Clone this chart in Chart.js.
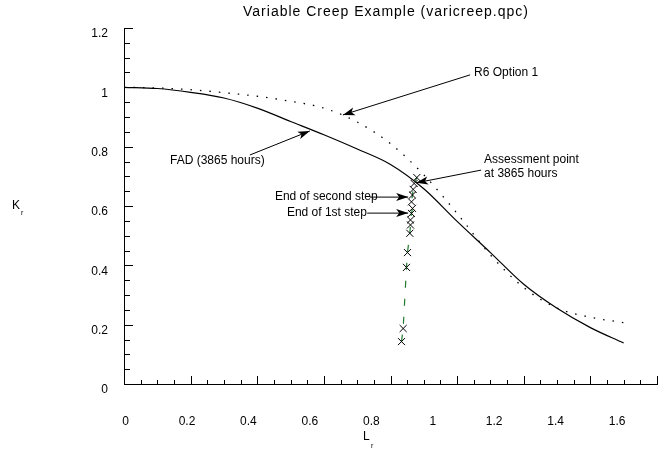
<!DOCTYPE html>
<html>
<head>
<meta charset="utf-8">
<script src="https://cdn.jsdelivr.net/npm/chart.js@4.4.1/dist/chart.umd.min.js"></script>
<style>
  body { margin: 0; background: #fff; }
</style>
</head>
<body>
<canvas id="creepChart" width="665" height="451"></canvas>
<script>
// Values
const lrValues = [0, 0.1, 0.2, 0.3, 0.4, 0.5, 0.6, 0.7, 0.8, 0.9, 1.0, 1.1, 1.2, 1.3, 1.4, 1.5];
const fadValues = [1.000, 0.996, 0.983, 0.964, 0.930, 0.885, 0.840, 0.792, 0.740, 0.658, 0.548, 0.443, 0.336, 0.255, 0.190, 0.138];
const r6Values = [1.000, 0.998, 0.992, 0.982, 0.970, 0.953, 0.930, 0.883, 0.810, 0.705, 0.575, 0.435, 0.325, 0.256, 0.225, 0.207];

// creep steps (bottom to top)
const stepLr = [0.833, 0.838, 0.848, 0.851, 0.858, 0.860, 0.860, 0.863, 0.866, 0.863, 0.866, 0.868, 0.871, 0.879];
const stepKr = [0.143, 0.187, 0.393, 0.443, 0.508, 0.536, 0.553, 0.575, 0.592, 0.614, 0.637, 0.656, 0.676, 0.696];

const xTickLabels = [0, 0.2, 0.4, 0.6, 0.8, 1, 1.2, 1.4, 1.6];
const yTickLabels = [0, 0.2, 0.4, 0.6, 0.8, 1, 1.2];
const minorStep = 0.05;

const chartTitle = 'Variable Creep Example (varicreep.qpc)';
const FONT = "'Liberation Sans', Arial, sans-serif";

// text notes with arrows, given in chart units
const notes = [
  { lines: ["R6 Option 1"], at: [1.051, 1.048], from: [1.039, 1.042], to: [0.657, 0.907] },
  { lines: ["FAD (3865 hours)"], at: [0.138, 0.752], from: [0.378, 0.772], to: [0.558, 0.853] },
  { lines: ["Assessment point", "at 3865 hours"], at: [1.081, 0.755], from: [1.072, 0.721], to: [0.877, 0.678] },
  { lines: ["End of second step"], at: [0.453, 0.630], from: [0.738, 0.630], to: [0.853, 0.630] },
  { lines: ["End of 1st step"], at: [0.489, 0.576], from: [0.73, 0.576], to: [0.853, 0.576] }
];

function toPoints(xs, ys) {
  return xs.map((v, i) => ({ x: v, y: ys[i] }));
}

function tickText(v) {
  return String(Math.round(v * 100) / 100);
}

function drawArrow(ctx, x1, y1, x2, y2) {
  ctx.beginPath();
  ctx.moveTo(x1, y1);
  ctx.lineTo(x2, y2);
  ctx.stroke();
  const ang = Math.atan2(y2 - y1, x2 - x1);
  ctx.save();
  ctx.translate(x2, y2);
  ctx.rotate(ang);
  ctx.beginPath();
  ctx.moveTo(0, 0);
  ctx.lineTo(-12, -4);
  ctx.lineTo(-9, 0);
  ctx.lineTo(-12, 4);
  ctx.closePath();
  ctx.fill();
  ctx.restore();
}

// title, inward tick marks, axis titles and the arrow notes
const decorPlugin = {
  id: 'decor',
  afterDraw(chart) {
    const ctx = chart.ctx;
    const xs = chart.scales.x;
    const ys = chart.scales.y;
    const area = chart.chartArea;
    ctx.save();
    ctx.strokeStyle = '#000';
    ctx.fillStyle = '#000';
    ctx.lineWidth = 1;

    // title (the original is letter-spaced)
    ctx.font = '14px ' + FONT;
    ctx.textAlign = 'center';
    ctx.textBaseline = 'middle';
    ctx.letterSpacing = '1px';
    ctx.fillText(chartTitle, 386, 12);
    ctx.letterSpacing = '0px';

    // x ticks
    const nx = Math.round((xs.max - xs.min) / minorStep);
    for (let i = 0; i <= nx; i++) {
      const px = Math.round(xs.getPixelForValue(xs.min + i * minorStep)) + 0.5;
      const len = i % 4 === 0 ? 8 : 4;
      ctx.beginPath();
      ctx.moveTo(px, area.bottom);
      ctx.lineTo(px, area.bottom - len);
      ctx.stroke();
    }
    // y ticks
    const ny = Math.round((ys.max - ys.min) / minorStep);
    for (let i = 0; i <= ny; i++) {
      const py = Math.round(ys.getPixelForValue(ys.min + i * minorStep)) + 0.5;
      const len = i % 4 === 0 ? 9 : 6;
      ctx.beginPath();
      ctx.moveTo(area.left, py);
      ctx.lineTo(area.left + len, py);
      ctx.stroke();
    }

    // axis titles with subscripts
    ctx.textAlign = 'left';
    ctx.font = '12px ' + FONT;
    ctx.fillText('K', 12, 206);
    ctx.fillText('L', 363, 437);
    ctx.font = '7px ' + FONT;
    ctx.fillText('r', 21, 213);
    ctx.fillText('r', 371, 446);

    // notes
    ctx.font = '12px ' + FONT;
    notes.forEach(n => {
      const tx = xs.getPixelForValue(n.at[0]);
      const ty = ys.getPixelForValue(n.at[1]);
      n.lines.forEach((s, k) => ctx.fillText(s, tx, ty + k * 14));
      drawArrow(ctx,
        xs.getPixelForValue(n.from[0]), ys.getPixelForValue(n.from[1]),
        xs.getPixelForValue(n.to[0]), ys.getPixelForValue(n.to[1]));
    });
    ctx.restore();
  }
};

new Chart(document.getElementById('creepChart'), {
  type: 'line',
  data: {
    datasets: [
      {
        label: 'FAD (3865 hours)',
        data: toPoints(lrValues, fadValues),
        borderColor: '#000',
        borderWidth: 1.2,
        pointRadius: 0,
        cubicInterpolationMode: 'monotone'
      },
      {
        label: 'R6 Option 1',
        data: toPoints(lrValues, r6Values),
        borderColor: '#000',
        borderWidth: 1.3,
        borderDash: [1.5, 8],
        pointRadius: 0,
        cubicInterpolationMode: 'monotone'
      },
      {
        label: 'Creep steps',
        data: toPoints(stepLr, stepKr),
        borderColor: '#1f7a2e',
        borderWidth: 1.2,
        borderDash: [7, 11],
        pointStyle: 'crossRot',
        pointRadius: 5,
        pointBorderColor: '#000',
        pointBackgroundColor: '#000',
        pointBorderWidth: 1
      }
    ]
  },
  options: {
    responsive: false,
    animation: false,
    devicePixelRatio: 1,
    layout: { padding: { left: 0, right: 8, top: 28, bottom: 0 } },
    plugins: {
      legend: { display: false },
      tooltip: { enabled: false },
      title: { display: false }
    },
    scales: {
      x: {
        type: 'linear',
        position: 'bottom',
        weight: 0,
        min: 0,
        max: 1.6,
        ticks: { display: false },
        grid: { display: false, drawTicks: false },
        border: { color: '#000', width: 1 },
        afterFit: s => { s.height = 0; }
      },
      xl: {
        type: 'linear',
        position: 'bottom',
        weight: 1,
        min: -0.005,
        max: 1.73,
        grid: { display: false, drawTicks: false },
        border: { display: false },
        afterBuildTicks: s => { s.ticks = xTickLabels.map(v => ({ value: v })); },
        afterFit: s => { s.height = 67; },
        ticks: { padding: 30, color: '#000', autoSkip: false, maxRotation: 0, callback: tickText, font: { family: FONT, size: 12 } }
      },
      y: {
        type: 'linear',
        min: 0,
        max: 1.2,
        grid: { display: false, drawTicks: false },
        border: { color: '#000', width: 1 },
        afterBuildTicks: s => { s.ticks = yTickLabels.map(v => ({ value: v })); },
        afterFit: s => { s.width = 124; },
        ticks: { padding: 16, labelOffset: 6, color: '#000', callback: tickText, font: { family: FONT, size: 12 } }
      }
    }
  },
  plugins: [decorPlugin]
});
</script>
</body>
</html>
